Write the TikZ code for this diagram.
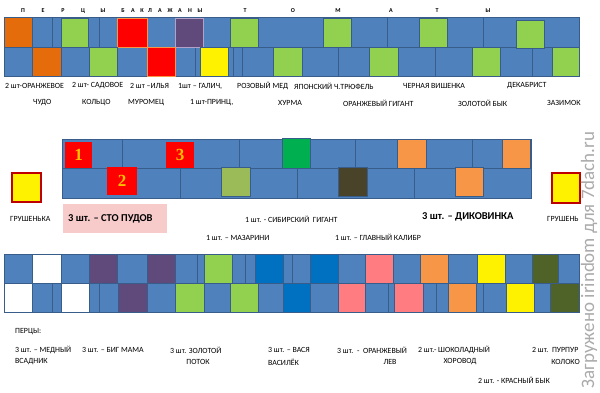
\documentclass[tikz,border=0pt]{standalone}
\usepackage{fontspec}
\setmainfont{Carlito}
\newfontfamily\numfont{Liberation Serif}
\definecolor{bedblue}{HTML}{4F81BD}
\definecolor{bedline}{HTML}{385D8A}
\definecolor{pgreen}{HTML}{92D050}
\definecolor{porange}{HTML}{E46C0A}
\definecolor{lorange}{HTML}{F79646}
\definecolor{ppurple}{HTML}{604A7B}
\definecolor{lpurple}{HTML}{B3A2C7}
\definecolor{bgreen}{HTML}{00B050}
\definecolor{ogreen}{HTML}{9BBB59}
\definecolor{dbrown}{HTML}{494429}
\definecolor{dolive}{HTML}{4F6228}
\definecolor{dblue}{HTML}{0070C0}
\definecolor{ppink}{HTML}{FF7C80}
\definecolor{lpink}{HTML}{F8CBCB}
\definecolor{numcol}{HTML}{FFC000}
\definecolor{wmark}{HTML}{ABABAB}
\begin{document}
\begin{tikzpicture}[x=1pt,y=-1pt,
    bed/.style={fill=bedblue,draw=bedline,line width=1pt},
    div/.style={draw=bedline,line width=0.9pt},
    sq/.style={draw=bedline,line width=0.8pt},
    hdr/.style={font=\bfseries\fontsize{6}{7}\selectfont,inner sep=0pt},
    lbl/.style={font=\fontsize{7.9}{8}\selectfont,inner sep=0pt,anchor=west},
    big/.style={font=\bfseries\fontsize{10.5}{11}\selectfont,inner sep=0pt,anchor=west},
    num/.style={font=\numfont\bfseries\fontsize{17}{17}\selectfont,text=numcol,inner sep=0pt}]
\useasboundingbox (0,0) rectangle (600,392);
% top bed
\draw[bed] (4,17) rectangle (579,76);
\draw[div] (4,47) -- (579,47);
\draw[div] (52,17) -- (52,47);
\draw[div] (99,17) -- (99,47);
\draw[div] (258,17) -- (258,47);
\draw[div] (387,17) -- (387,47);
\draw[div] (483,17) -- (483,47);
\draw[div] (195,47) -- (195,76);
\draw[div] (233,47) -- (233,76);
\draw[div] (242,47) -- (242,76);
\draw[div] (338,47) -- (338,76);
\draw[div] (435,47) -- (435,76);
\draw[div] (532,47) -- (532,76);
\draw[sq,fill=porange] (4,17) rectangle (32,47);
\draw[sq,fill=pgreen] (61,18) rectangle (88,47);
\draw[sq,draw=lorange,fill=red] (117,18) rectangle (147,47);
\draw[sq,draw=lpurple,fill=ppurple] (175,18) rectangle (203,47);
\draw[sq,fill=pgreen] (230,18) rectangle (258,47);
\draw[sq,fill=pgreen] (323,18) rectangle (351,47);
\draw[sq,fill=pgreen] (419,18) rectangle (447,47);
\draw[sq,fill=pgreen] (516,20) rectangle (544,48);
\draw[sq,fill=porange] (32,47) rectangle (61,76);
\draw[sq,fill=pgreen] (89,47) rectangle (117,76);
\draw[sq,draw=lorange,fill=red] (147,47) rectangle (175,76);
\draw[sq,fill=yellow] (200,47) rectangle (228,76);
\draw[sq,fill=pgreen] (273,47) rectangle (302,76);
\draw[sq,fill=pgreen] (369,47) rectangle (398,76);
\draw[sq,fill=pgreen] (472,47) rectangle (500,76);
\draw[sq,fill=pgreen] (552,47) rectangle (579,76);
\node[hdr] (hp1) at (23,11) {П};
\node[hdr] (hp2) at (43,11) {Е};
\node[hdr] (hp3) at (63,11) {Р};
\node[hdr] (hp4) at (83,11) {Ц};
\node[hdr] (hp5) at (103,11) {Ы};
\node[hdr] (hb1) at (123,11) {Б};
\node[hdr] (hb2) at (133,11) {А};
\node[hdr] (hb3) at (142,11) {К};
\node[hdr] (hb4) at (150,11) {Л};
\node[hdr] (hb5) at (160,11) {А};
\node[hdr] (hb6) at (170,11) {Ж};
\node[hdr] (hb7) at (180,11) {А};
\node[hdr] (hb8) at (190,11) {Н};
\node[hdr] (hb9) at (200,11) {Ы};
\node[hdr] (ht1) at (245,11) {Т};
\node[hdr] (ht2) at (293,11) {О};
\node[hdr] (ht3) at (338,11) {М};
\node[hdr] (ht4) at (391,11) {А};
\node[hdr] (ht5) at (437,11) {Т};
\node[hdr] (ht6) at (488,11) {Ы};
\node[lbl] (oranzh) at (5,86) {2 шт-ОРАНЖЕВОЕ};
\node[lbl] (sadovoe) at (72,86) {2 шт- САДОВОЕ};
\node[lbl] (ilya) at (130,86) {2 шт –ИЛЬЯ};
\node[lbl] (galich) at (178,86) {1шт – ГАЛИЧ,};
\node[lbl] (rozmed) at (237,86) {РОЗОВЫЙ МЕД};
\node[lbl] (tryufel) at (294,86) {ЯПОНСКИЙ Ч.ТРЮФЕЛЬ};
\node[lbl] (vishenka) at (403,86) {ЧЕРНАЯ ВИШЕНКА};
\node[lbl] (dekabrist) at (507,86) {ДЕКАБРИСТ};
\node[lbl] (chudo) at (33,103) {ЧУДО};
\node[lbl] (koltso) at (82,103) {КОЛЬЦО};
\node[lbl] (muromets) at (128,103) {МУРОМЕЦ};
\node[lbl] (prints) at (190,103) {1 шт-ПРИНЦ,};
\node[lbl] (hurma) at (278,103) {ХУРМА};
\node[lbl] (orgigant) at (343,103) {ОРАНЖЕВЫЙ ГИГАНТ};
\node[lbl] (zolbyk) at (458,103) {ЗОЛОТОЙ БЫК};
\node[lbl] (zazimok) at (547,103) {ЗАЗИМОК};
% middle bed
\draw[bed] (62,139) rectangle (531,198);
\draw[div] (62,168) -- (531,168);
\draw[div] (122,139) -- (122,168);
\draw[div] (239,139) -- (239,168);
\draw[div] (355,139) -- (355,168);
\draw[div] (472,139) -- (472,168);
\draw[div] (180,168) -- (180,198);
\draw[div] (297,168) -- (297,198);
\draw[div] (414,168) -- (414,198);
\draw[fill=red,draw=none] (65,142) rectangle (92,168);
\draw[fill=red,draw=none] (166,142) rectangle (194,168);
\draw[fill=red,draw=none] (107,167) rectangle (137,195);
\node[num] (n1) at (78.5,155) {1};
\node[num] (n3) at (180,155) {3};
\node[num] (n2) at (122,181) {2};
\draw[sq,fill=bgreen] (282,138) rectangle (310,168);
\draw[sq,fill=lorange] (397,139) rectangle (426,168);
\draw[sq,fill=lorange] (502,139) rectangle (530,168);
\draw[sq,fill=ogreen] (221,167) rectangle (250,196);
\draw[sq,fill=dbrown] (338,167) rectangle (367,196);
\draw[sq,fill=lorange] (455,167) rectangle (483,196);
\draw[fill=yellow,draw=red!75!black,line width=1.1pt] (12,173) rectangle (41,202);
\draw[fill=yellow,draw=red!75!black,line width=1.1pt] (552,173) rectangle (580,203);
\fill[lpink] (63,204) rectangle (167,233);
\node[lbl] (grush1) at (10,219) {ГРУШЕНЬКА};
\node[big] (stopudov) at (68,219) {3 шт. – СТО ПУДОВ};
\node[lbl] (sibir) at (245,219) {1 шт. - СИБИРСКИЙ\ \ ГИГАНТ};
\node[lbl] (mazarini) at (206,238) {1 шт. – МАЗАРИНИ};
\node[lbl] (kalibr) at (335,237) {1 шт. – ГЛАВНЫЙ КАЛИБР};
\node[big] (dikovinka) at (422,217) {3 шт. – ДИКОВИНКА};
\node[lbl] (grush2) at (547,219) {ГРУШЕНЬ};
% bottom bed
\draw[bed] (4,254) rectangle (579,312);
\draw[div] (4,283) -- (579,283);
\draw[div] (197,254) -- (197,283);
\draw[div] (245,254) -- (245,283);
\draw[div] (292,254) -- (292,283);
\draw[div] (52,283) -- (52,312);
\draw[div] (99,283) -- (99,312);
\draw[div] (388,283) -- (388,312);
\draw[div] (436,283) -- (436,312);
\draw[div] (483,283) -- (483,312);
\draw[sq,fill=white] (32,254) rectangle (61,283);
\draw[sq,fill=ppurple] (89,254) rectangle (117,283);
\draw[sq,fill=ppurple] (147,254) rectangle (175,283);
\draw[sq,fill=pgreen] (204,254) rectangle (232,283);
\draw[sq,fill=dblue] (255,254) rectangle (283,283);
\draw[sq,fill=dblue] (310,254) rectangle (338,283);
\draw[sq,fill=ppink] (365,254) rectangle (393,283);
\draw[sq,fill=lorange] (420,254) rectangle (448,283);
\draw[sq,fill=yellow] (477,254) rectangle (505,283);
\draw[sq,fill=dolive] (532,254) rectangle (558,283);
\draw[sq,fill=white] (4,283) rectangle (32,312);
\draw[sq,fill=white] (61,283) rectangle (89,312);
\draw[sq,fill=ppurple] (118,283) rectangle (147,312);
\draw[sq,fill=pgreen] (175,283) rectangle (204,312);
\draw[sq,fill=pgreen] (230,283) rectangle (258,312);
\draw[sq,fill=dblue] (283,283) rectangle (310,312);
\draw[sq,fill=ppink] (338,283) rectangle (365,312);
\draw[sq,fill=ppink] (394,283) rectangle (423,312);
\draw[sq,fill=lorange] (448,283) rectangle (476,312);
\draw[sq,fill=yellow] (506,283) rectangle (534,312);
\draw[sq,fill=dolive] (550,283) rectangle (579,312);
\node[lbl] (pertsy) at (15,332) {ПЕРЦЫ:};
\node[lbl] (mednyj) at (15,350) {3 шт. – МЕДНЫЙ};
\node[lbl] (vsadnik) at (15,362) {ВСАДНИК};
\node[lbl] (bigmama) at (82,350) {3 шт. – БИГ МАМА};
\node[lbl] (zolotoj) at (170,350) {3 шт. ЗОЛОТОЙ};
\node[lbl,anchor=center] (potok) at (198,362) {ПОТОК};
\node[lbl] (vasya) at (268,350) {3 шт. – ВАСЯ};
\node[lbl] (vasilek) at (268,362) {ВАСИЛЁК};
\node[lbl] (orlev) at (337,350) {3 шт.\ \ -\ \ ОРАНЖЕВЫЙ};
\node[lbl,anchor=center] (lev) at (390,362) {ЛЕВ};
\node[lbl] (shokolad) at (418,350) {2 шт.- ШОКОЛАДНЫЙ};
\node[lbl,anchor=center] (horovod) at (460,362) {ХОРОВОД};
\node[lbl] (purpur) at (532,350) {2 шт.\ \ ПУРПУР};
\node[lbl,anchor=east] (kolokol) at (580,362) {КОЛОКО};
\node[lbl] (krbyk) at (478,380) {2 шт. - КРАСНЫЙ БЫК};
\node[rotate=90,text=wmark,font=\fontsize{19}{19}\selectfont,inner sep=0pt] (wm) at (589,260) {Загружено irindom для 7dach.ru};
\end{tikzpicture}
\end{document}
